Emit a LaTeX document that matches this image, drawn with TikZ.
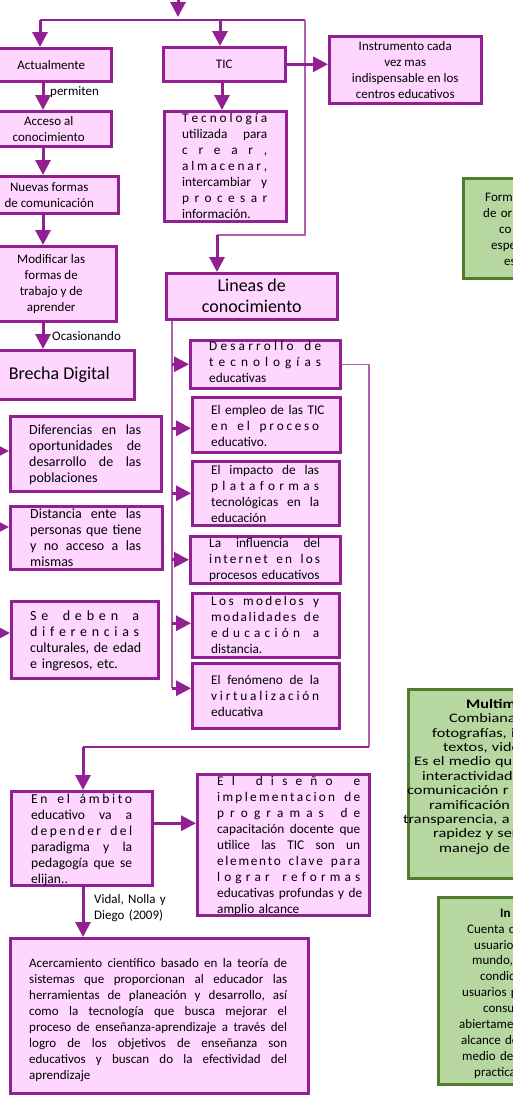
\documentclass[tikz,border=0pt]{standalone}
\usepackage{fontspec}
\setmainfont{Carlito}
\newfontfamily\widefont[FakeStretch=1.25]{Carlito}
\usetikzlibrary{arrows.meta}
\definecolor{pk}{HTML}{FFD6FF}
\definecolor{pu}{HTML}{922092}
\definecolor{pl}{HTML}{B060B0}
\definecolor{gf}{HTML}{B7D7A0}
\definecolor{gb}{HTML}{507C2C}
\newcommand\LL[1]{\noindent\rule{0pt}{11pt}#1\par}
\newcommand\GL[2]{\noindent\hspace*{#1pt}\rule{0pt}{11pt}#2\par}
\ExplSyntaxOn
\NewDocumentCommand\SL{m}{\noindent\makebox[\hsize][s]{\rule{0pt}{11pt}\tl_map_inline:nn{#1}{##1\hfil}\unskip}\par}
\NewDocumentCommand\JL{m}{\seq_set_split:Nnn \l_tmpa_seq {~} {#1}\noindent\makebox[\hsize][s]{\rule{0pt}{11pt}\seq_use:Nn \l_tmpa_seq {\c_space_tl\hfil}}\par}
\ExplSyntaxOff
\begin{document}
\begin{tikzpicture}[x=1pt,y=-1pt,
  pbox/.style={draw=pu, fill=pk, line width=2.5pt, inner sep=0pt, anchor=north west, align=center, font=\fontsize{13}{16}\selectfont},
  gbox/.style={draw=gb, fill=gf, line width=3pt, inner sep=0pt, anchor=north west},
  txt/.style={inner sep=0pt, anchor=north west, font=\fontsize{13.3}{16}\selectfont},
  bigtxt/.style={txt, font=\fontsize{14}{16}\selectfont},
  gtxt/.style={inner sep=0pt, anchor=north west, text width=200pt, font=\fontsize{13}{14.4}\selectfont},
  lbl/.style={inner sep=0pt, anchor=base west, font=\fontsize{13}{16}\selectfont},
  arr/.style={draw=pu, line width=3pt, -{Triangle[width=15pt,length=15pt]}},
  tline/.style={draw=pl, line width=1.5pt},
  mline/.style={draw=pu, line width=2pt}]
\useasboundingbox (0,0) rectangle (513,1095);
\fill[white] (0,0) rectangle (513,1095);
\clip (0,0) rectangle (513,1095);

% left column
\node[pbox, minimum width=120pt, minimum height=33pt] (act) at (-10,47) {Actualmente};
\node[pbox, minimum width=125pt, minimum height=35pt] (acc) at (-15,110) {Acceso al\\conocimiento};
\node[pbox, minimum width=138pt, minimum height=37pt] (nue) at (-21,175) {Nuevas formas\\de comunicación};
\node[pbox, minimum width=130pt, minimum height=75pt] (mod) at (-15,245) {Modificar las\\formas de\\trabajo y de\\aprender};
\node[pbox, minimum width=150pt, minimum height=49pt, font=\fontsize{18}{21}\selectfont] (bre) at (-17,349) {Brecha Digital};

% TIC column
\node[pbox, minimum width=122pt, minimum height=34pt] (tic) at (162,46) {TIC};
\node[pbox, minimum width=152pt, minimum height=67pt] (ins) at (328,35) {Instrumento cada\\vez mas\\indispensable en los\\centros educativos};
\node[pbox, minimum width=122pt, minimum height=110pt] (tec) at (163,110) {};
\node[txt, text width=85pt] (tect) at (182,111) {\SL{Tecnología}\JL{utilizada para}\SL{crear,}\SL{almacenar,}\JL{intercambiar y}\SL{procesar}\LL{información.}};
\node[pbox, minimum width=171pt, minimum height=46pt, font=\fontsize{18}{21}\selectfont] (lin) at (165,272) {Lineas de\\conocimiento};

% lineas boxes
\node[pbox, minimum width=150pt, minimum height=48pt] (d1) at (189,339) {};
\node[txt, text width=112pt] (d1t) at (209,339) {\SL{Desarrollo~de}\SL{tecnologías}\LL{educativas}};
\node[pbox, minimum width=148pt, minimum height=55pt] (d2) at (191,396) {};
\node[txt, text width=108pt] (d2t) at (211,403) {\JL{El empleo de las TIC}\SL{en~el~proceso}\LL{educativo.}};
\node[pbox, minimum width=147pt, minimum height=64pt] (d3) at (191,460) {};
\node[txt, text width=108pt] (d3t) at (211,463) {\JL{El impacto de las}\SL{plataformas}\JL{tecnológicas en la}\LL{educación}};
\node[pbox, minimum width=150pt, minimum height=47pt] (d4) at (189,535) {};
\node[txt, text width=111pt] (d4t) at (209,536) {\JL{La influencia del}\SL{internet~en~los}\LL{procesos educativos}};
\node[pbox, minimum width=147pt, minimum height=64pt] (d5) at (191,592) {};
\node[txt, text width=108pt] (d5t) at (211,594) {\SL{Los~modelos~y}\SL{modalidades~de}\SL{educación~a}\LL{distancia.}};
\node[pbox, minimum width=147pt, minimum height=65pt] (d6) at (191,662) {};
\node[txt, text width=108pt] (d6t) at (211,673) {\JL{El fenómeno de la}\SL{virtualización}\LL{educativa}};

% brecha boxes
\node[pbox, minimum width=151pt, minimum height=75pt] (dif) at (9,415) {};
\node[bigtxt, text width=112pt] (dift) at (29,423) {\JL{Diferencias en las}\JL{oportunidades de}\JL{desarrollo de las}\LL{poblaciones}};
\node[pbox, minimum width=152pt, minimum height=63pt] (dis) at (9,505) {};
\node[bigtxt, text width=111pt] (dist) at (30,507) {\JL{Distancia ente las}\JL{personas que tiene}\JL{y no acceso a las}\LL{mismas}};
\node[pbox, minimum width=147pt, minimum height=77pt] (sed) at (10,600) {};
\node[bigtxt, text width=109pt] (sedt) at (30,609) {\SL{Se~deben~a}\SL{diferencias}\JL{culturales, de edad}\LL{e ingresos, etc.}};

% bottom
\node[pbox, minimum width=141pt, minimum height=94pt] (amb) at (10,790) {};
\node[txt, text width=101pt, font=\fontsize{13.6}{16}\selectfont] (ambt) at (31,792) {\SL{En~el~ámbito}\JL{educativo va a}\SL{depender~del}\JL{paradigma y la}\JL{pedagogía que se}\LL{elijan..}};
\node[pbox, minimum width=172pt, minimum height=141pt] (dse) at (196,773) {};
\node[txt, text width=143pt] (dset) at (217,774) {\SL{El~diseño~e}\SL{implementacion~de}\SL{programas~de}\JL{capacitación docente que}\JL{utilice las TIC son un}\SL{elemento~clave~para}\SL{lograr~reformas}\JL{educativas profundas y de}\LL{amplio alcance}};
\node[pbox, minimum width=298pt, minimum height=155pt] (ace) at (9,937) {};
\node[txt, text width=258pt, font=\fontsize{13}{16}\selectfont] (acet) at (29,956) {\JL{Acercamiento científico basado en la teoría de}\JL{sistemas que proporcionan al educador las}\JL{herramientas de planeación y desarrollo, así}\JL{como la tecnología que busca mejorar el}\JL{proceso de enseñanza-aprendizaje a través del}\JL{logro de los objetivos de enseñanza son}\JL{educativos y buscan do la efectividad del}\LL{aprendizaje}};
\node[txt, text width=90pt, font=\fontsize{13}{16}\selectfont] (vid) at (94,892) {\LL{Vidal, Nolla y}\LL{Diego (2009)}};

% green boxes
\node[gbox, minimum width=110pt, minimum height=100pt] (g1) at (462,177) {};
\node[gtxt, font=\fontsize{13}{16}\selectfont] (g1t) at (400,190) {\GL{85}{Form}\GL{83}{de or}\GL{99}{co}\GL{91}{espe}\GL{104}{es}};
\node[gbox, minimum width=160pt, minimum height=189pt] (g2) at (407,688) {};
\node[gtxt, font=\widefont\fontsize{13}{14.4}\selectfont] (g2t) at (400,697) {\GL{66}{\textbf{Multim}}\GL{49}{Combianan}\GL{32}{fotografías, i}\GL{43}{textos, vide}\GL{14}{Es el medio qu}\GL{22}{interactividad}\GL{7}{comunicación r}\GL{29}{ramificación}\GL{3}{transparencia, a}\GL{33}{rapidez y ser}\GL{39}{manejo de r}};
\node[gbox, minimum width=160pt, minimum height=187pt] (g3) at (437,896) {};
\node[gtxt, font=\fontsize{13}{15.9}\selectfont] (g3t) at (400,906) {\GL{100}{\textbf{In}}\GL{67}{Cuenta c}\GL{74}{usuarios}\GL{72}{mundo,}\GL{80}{condicio}\GL{62}{usuarios p}\GL{83}{consult}\GL{59}{abiertame}\GL{61}{alcance de}\GL{62}{medio de}\GL{74}{practican}};

% labels
\node[lbl] (perm) at (50,95) {permiten};
\node[lbl] (oca) at (52,340) {Ocasionando};

% connectors top
\coordinate (topin) at (178,-20);
\coordinate (topend) at (178,17);
\draw[arr] (topin) -- (topend);
\coordinate (jl) at (40,19.5);
\coordinate (jr) at (305,19.5);
\coordinate (jt) at (220,19.5);
\coordinate (jb) at (305,235);
\coordinate (jb2) at (217,235);
\draw[mline] (jl) -- (jr);
\draw[arr] (jl) -- (jl |- act.north);
\draw[arr] (jt) -- (jt |- tic.north);
\draw[tline] (jr) -- (jb) -- (jb2);
\draw[arr] (jb2) -- (jb2 |- lin.north);

% left column arrows
\coordinate (c43) at (43,0);
\draw[arr] (act.south -| c43) -- (acc.north -| c43);
\draw[arr] (acc.south -| c43) -- (nue.north -| c43);
\draw[arr] (nue.south -| c43) -- (mod.north -| c43);
\draw[arr] (mod.south -| c43) -- (bre.north -| c43);

% TIC arrows
\coordinate (c222) at (222,0);
\draw[arr] (tic.south -| c222) -- (tec.north -| c222);
\draw[arr] (tic.east) -- (tic.east -| ins.west);

% lineas column
\coordinate (c172) at (172,0);
\coordinate (a1) at (d1.west);
\coordinate (a2) at ([yshift=-3.5pt]d2.west);
\coordinate (a3) at (d3.west);
\coordinate (a4) at (d4.west);
\coordinate (a5) at ([yshift=2pt]d5.west);
\coordinate (a6) at ([yshift=7.5pt]d6.west);
\draw[tline] (lin.south -| c172) -- (c172 |- a6);
\foreach \i in {1,...,6} \draw[arr] (c172 |- a\i) -- (a\i);

% desarrollo bracket
\coordinate (r1) at (369,747);
\coordinate (c83) at (83,0);
\draw[tline] (d1.east) -| (r1);
\draw[mline] (r1) -- (r1 -| c83);
\draw[arr] (r1 -| c83) -- (amb.north -| c83);

% ambito arrows
\coordinate (ae) at ([yshift=15pt]amb.east);
\draw[arr] (ae) -- (ae -| dse.west);
\draw[arr] (amb.south -| c83) -- (ace.north -| c83);

% left incoming arrows
\coordinate (l1) at (-30,451);
\coordinate (l2) at (-30,527);
\coordinate (l3) at (-30,633);
\draw[arr] (l1) -- (l1 -| dif.west);
\draw[arr] (l2) -- (l2 -| dis.west);
\draw[arr] (l3) -- (l3 -| sed.west);
\end{tikzpicture}
\end{document}
